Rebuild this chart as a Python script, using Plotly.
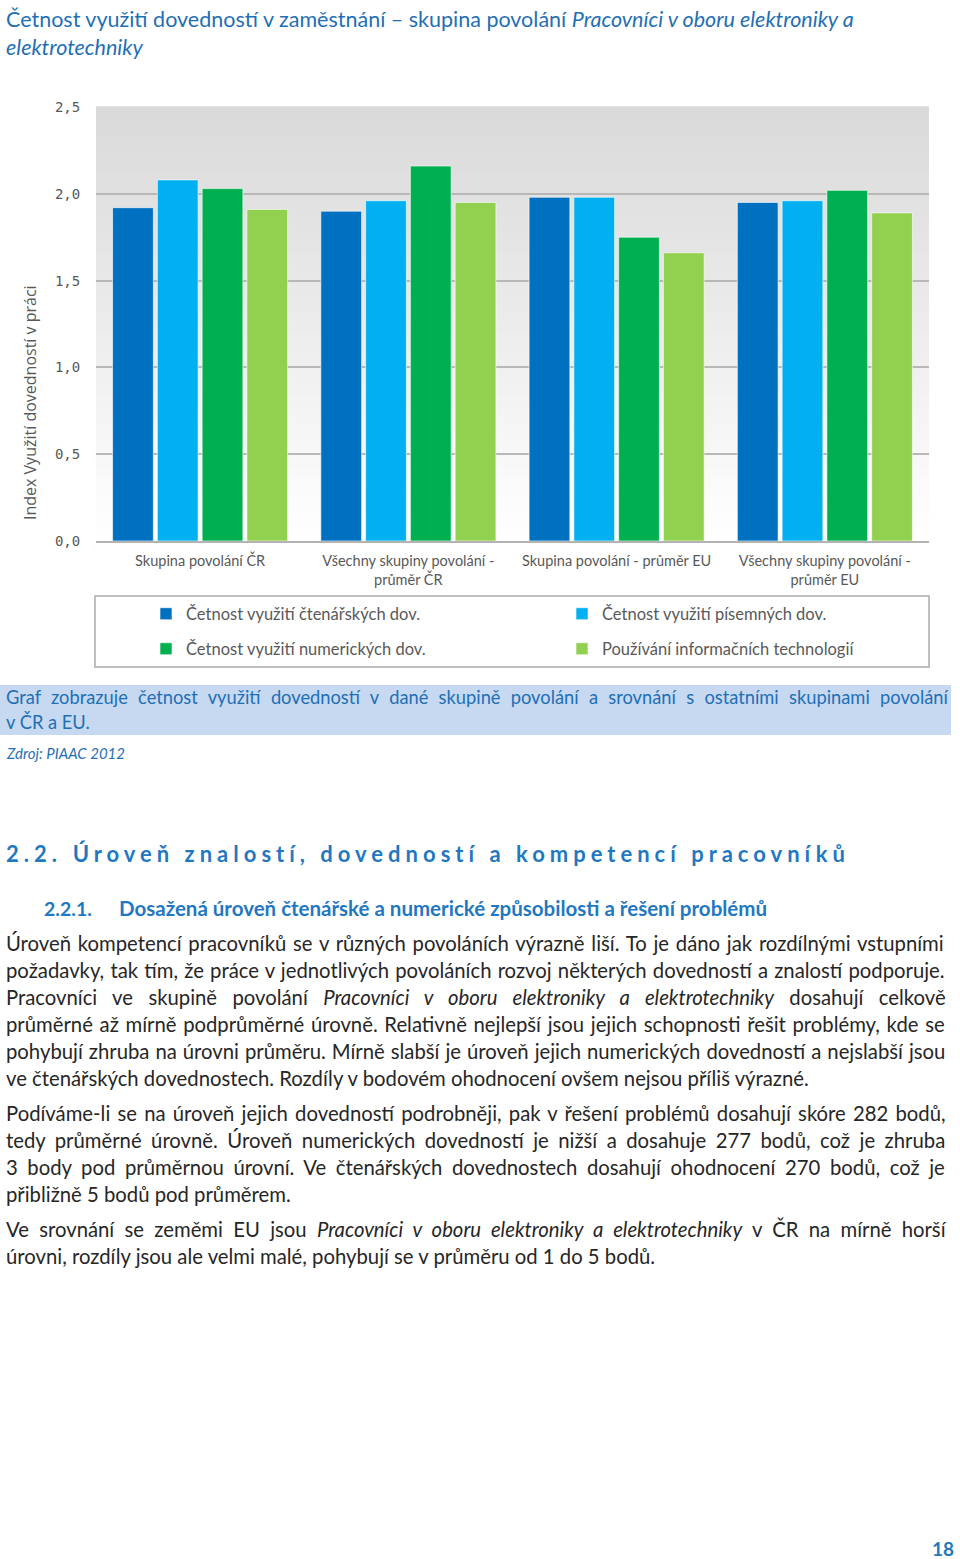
import plotly.graph_objects as go

W, H = 960, 1559

# ---------------- data ----------------
categories = [
    "Skupina povolání ČR",
    "Všechny skupiny povolání -<br>průměr ČR",
    "Skupina povolání - průměr EU",
    "Všechny skupiny povolání -<br>průměr EU",
]
series_names = [
    "Četnost využití čtenářských dov.",
    "Četnost využití písemných dov.",
    "Četnost využití numerických dov.",
    "Používání informačních technologií",
]
reading = [1.92, 1.90, 1.98, 1.95]
writing = [2.08, 1.96, 1.98, 1.96]
numeracy = [2.03, 2.16, 1.75, 2.02]
ict = [1.91, 1.95, 1.66, 1.89]
series_values = [reading, writing, numeracy, ict]
series_colors = ["#0070c0", "#00b0f0", "#00b050", "#92d050"]
tick_values = [0, 0.5, 1.0, 1.5, 2.0, 2.5]

# ---------------- helpers ----------------
def px_x(x):
    return x / W

def px_y(y):
    return 1 - y / H

BLUE = "#1f6fb4"
HEAD = "#1f78c1"
BODY = "#262626"
GRAY = "#595959"
FONT = "Lato"

fig = go.Figure()
legend_ids = ["legend", "legend2", "legend3", "legend4"]
for name, vals, col, lg in zip(series_names, series_values, series_colors, legend_ids):
    fig.add_trace(go.Bar(
        x=categories, y=vals, name=name, legend=lg,
        marker=dict(color=col, line=dict(color="rgba(255,255,255,0.6)", width=1)),
        hoverinfo="y+name",
    ))

shapes = []
# gradient background of the plot area
N = 60
top = (217, 217, 217)
for i in range(N):
    f = (i + 0.5) / N
    c = tuple(int(round(255 + (t - 255) * f)) for t in top)
    shapes.append(dict(type="rect", xref="x domain", yref="y domain",
                       x0=0, x1=1, y0=i / N, y1=(i + 1) / N + 0.002,
                       fillcolor="rgb(%d,%d,%d)" % c, line=dict(width=0), layer="below"))
# legend frame
shapes.append(dict(type="rect", xref="paper", yref="paper",
                   x0=px_x(95), x1=px_x(929), y0=px_y(667), y1=px_y(596),
                   line=dict(color="#bfbfbf", width=2), fillcolor="rgba(0,0,0,0)"))
# caption background
shapes.append(dict(type="rect", xref="paper", yref="paper",
                   x0=0, x1=px_x(951), y0=px_y(735), y1=px_y(685),
                   line=dict(width=0), fillcolor="#c6d9f1", layer="below"))

ann = []
def text(x, y, s, size, color=BODY, anchor="left", bold=False, italic=False, family=FONT, ws=None):
    if ws is not None:
        s = '<span style="word-spacing:%.2fpx">%s</span>' % (ws, s)
    ann.append(dict(xref="paper", yref="paper", x=px_x(x), y=px_y(y), text=s,
                    showarrow=False, xanchor=anchor, yanchor="middle",
                    font=dict(family=family, size=size, color=color,
                              weight="bold" if bold else "normal",
                              style="italic" if italic else "normal")))

# title
text(4, 19, "Četnost využití dovedností v zaměstnání – skupina povolání <i>Pracovníci v oboru elektroniky a</i>", 21.5, BLUE)
text(4, 47, "<i>elektrotechniky</i>", 21.5, BLUE)
# y axis title
ann.append(dict(xref="paper", yref="paper", x=px_x(30), y=px_y(403), text="Index Využití dovedností v práci",
                textangle=-90, showarrow=False, xanchor="center", yanchor="middle",
                font=dict(family="Open Sans", size=16, color=GRAY)))
# caption
text(4, 697, "Graf zobrazuje četnost využití dovedností v dané skupině povolání a srovnání s ostatními skupinami povolání", 18.3, BLUE, ws=5.6)
text(4, 722, "v ČR a EU.", 18.3, BLUE)
text(4, 753, "Zdroj: PIAAC 2012", 15, BLUE, italic=True)
# heading
text(4, 854, '<span style="letter-spacing:5px">2.2.</span>  <span style="letter-spacing:5px">Úroveň znalostí, dovedností a kompetencí pracovníků</span>', 22, HEAD, bold=True)
text(42, 908, "2.2.1.", 19.5, HEAD, bold=True)
text(117, 908, "Dosažená úroveň čtenářské a numerické způsobilosti a řešení problémů", 20.5, HEAD, bold=True)

body = [
    (943, "Úroveň kompetencí pracovníků se v různých povoláních výrazně liší. To je dáno jak rozdílnými vstupními", 1.6),
    (970, "požadavky, tak tím, že práce v jednotlivých povoláních rozvoj některých dovedností a znalostí podporuje.", 1.0),
    (997, "Pracovníci ve skupině povolání <i>Pracovníci v oboru elektroniky a elektrotechniky</i> dosahují celkově", 10.2),
    (1024, "průměrné až mírně podprůměrné úrovně. Relativně nejlepší jsou jejich schopnosti řešit problémy, kde se", 1.5),
    (1051, "pohybují zhruba na úrovni průměru. Mírně slabší je úroveň jejich numerických dovedností a nejslabší jsou", 0.8),
    (1078, "ve čtenářských dovednostech. Rozdíly v bodovém ohodnocení ovšem nejsou příliš výrazné.", None),
    (1113, "Podíváme-li se na úroveň jejich dovedností podrobněji, pak v řešení problémů dosahují skóre 282 bodů,", 2.0),
    (1140, "tedy průměrné úrovně. Úroveň numerických dovedností je nižší a dosahuje 277 bodů, což je zhruba", 4.3),
    (1167, "3 body pod průměrnou úrovní. Ve čtenářských dovednostech dosahují ohodnocení 270 bodů, což je", 4.4),
    (1194, "přibližně 5 bodů pod průměrem.", None),
    (1229, "Ve srovnání se zeměmi EU jsou <i>Pracovníci v oboru elektroniky a elektrotechniky</i> v ČR na mírně horší", 5.1),
    (1256, "úrovni, rozdíly jsou ale velmi malé, pohybují se v průměru od 1 do 5 bodů.", None),
]
for y, s, ws in body:
    text(4, y, s, 20.3, BODY, ws=ws)

text(956, 1548, "18", 19, HEAD, anchor="right", bold=True)

leg_font = dict(family=FONT, size=16.5, color=GRAY)
leg_pos = [(146, 614), (562, 614), (146, 649), (562, 649)]
legends = {}
for lid, (lx, ly) in zip(legend_ids, leg_pos):
    legends[lid] = dict(orientation="h", x=px_x(lx), y=px_y(ly), xanchor="left", yanchor="middle",
                        bgcolor="rgba(0,0,0,0)", font=leg_font)

fig.update_layout(
    width=W, height=H,
    margin=dict(l=0, r=0, t=0, b=0, autoexpand=False),
    paper_bgcolor="white", plot_bgcolor="rgba(0,0,0,0)",
    separators=", ",
    barmode="group", bargap=0.14, bargroupgap=0.09,
    shapes=shapes, annotations=ann,
    xaxis=dict(domain=[px_x(96), px_x(929)], showgrid=False, showline=True, automargin=False,
               linecolor="#b3b3b3", linewidth=2, ticks="outside", ticklen=6,
               tickcolor="rgba(0,0,0,0)",
               tickfont=dict(family=FONT, size=14.5, color=GRAY)),
    yaxis=dict(domain=[px_y(541), px_y(107)], range=[0, 2.5], tickvals=tick_values, automargin=False,
               tickformat=".1f", showgrid=True, gridcolor="#b8b8b8", gridwidth=1.5,
               zeroline=False, ticks="outside", ticklen=12, tickcolor="rgba(0,0,0,0)",
               tickfont=dict(family="DejaVu Sans Mono", size=14, color=GRAY)),
    showlegend=True,
    **legends,
)

fig.write_html("out.html")
